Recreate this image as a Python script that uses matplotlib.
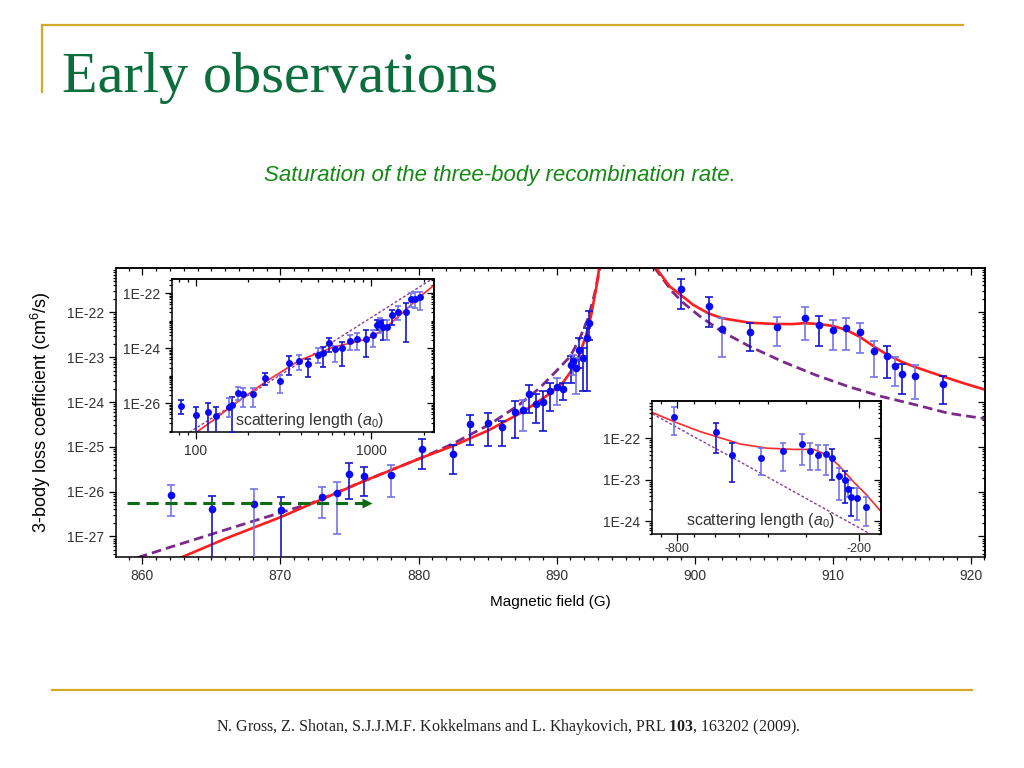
import numpy as np
import matplotlib.pyplot as plt
from matplotlib.lines import Line2D
from matplotlib.ticker import FixedLocator, LogLocator, MultipleLocator, NullFormatter, FuncFormatter

plt.rcParams['font.family'] = ['Liberation Sans', 'DejaVu Sans']
plt.rcParams['mathtext.fontset'] = 'custom'
plt.rcParams['mathtext.rm'] = 'Liberation Sans'
plt.rcParams['mathtext.it'] = 'Liberation Sans:italic'
plt.rcParams['mathtext.bf'] = 'Liberation Serif:bold'

# ---- main panel: K3 vs field, values are log10(K3) ----
main_field = [862.06, 865.05, 868.08, 870.04, 873.0, 874.07, 875.0, 876.05, 878.0, 880.25,
              882.5, 883.7, 885.0, 886.05, 887.0, 887.55, 888.0, 888.5, 889.0, 889.55,
              890.0, 890.5, 891.05, 891.2, 891.4, 891.65, 891.95, 892.2, 892.35, 899.0,
              901.03, 902.0, 904.0, 906.0, 908.0, 909.0, 910.0, 911.0, 911.96, 913.0,
              913.97, 914.5, 915.0, 916.0, 917.98]
main_logk = [-26.08, -26.39, -26.27, -26.42, -26.11, -26.04, -25.60, -25.65, -25.63, -25.05,
             -25.15, -24.50, -24.47, -24.56, -24.22, -24.17, -23.82, -24.04, -24.00, -23.76,
             -23.67, -23.70, -23.17, -23.09, -23.24, -22.83, -23.02, -22.57, -22.23, -21.48,
             -21.85, -22.38, -22.44, -22.32, -22.12, -22.29, -22.39, -22.35, -22.44, -22.87,
             -22.97, -23.19, -23.37, -23.41, -23.60]
main_hi = [-25.86, -26.10, -25.95, -26.11, -25.89, -25.78, -25.37, -25.44, -25.40, -24.83,
           -24.95, -24.28, -24.24, -24.43, -23.98, -23.95, -23.62, -23.83, -23.76, -23.57,
           -23.46, -23.57, -22.98, -22.95, -23.02, -22.57, -22.79, -22.35, -21.97, -21.26,
           -21.65, -22.13, -22.24, -22.11, -21.89, -22.08, -22.18, -22.13, -22.23, -22.63,
           -22.76, -23.00, -23.15, -23.17, -23.42]
main_lo = [-26.54, -28.0, -28.0, -28.0, -26.59, -26.95, -26.16, -26.10, -26.12, -25.50,
           -25.60, -24.95, -24.99, -24.99, -24.80, -24.65, -24.24, -24.47, -24.64, -24.21,
           -24.06, -23.95, -23.57, -23.40, -23.83, -23.24, -23.76, -23.75, -22.61, -21.92,
           -22.33, -23.00, -22.87, -22.76, -22.61, -22.74, -22.84, -22.84, -22.90, -23.45,
           -23.47, -23.64, -23.82, -23.93, -24.04]
main_run = [1, 0, 1, 0, 1, 1, 0, 0, 1, 0, 0, 0, 0, 0, 0, 1, 0, 0, 0, 0,
            1, 0, 0, 1, 1, 0, 0, 0, 0, 0, 0, 1, 0, 1, 1, 0, 1, 1, 1, 1,
            0, 1, 0, 1, 0]

# theory curves (solid = with saturation, dashed = a^4 scaling)
fit_left_field = [862.8, 866.0, 870.0, 873.0, 876.0, 878.65, 880.25, 882.5, 885.15, 887.6,
                  889.25, 890.46, 891.06, 891.67, 892.15, 892.52, 892.88, 893.1]
fit_left_logk = [-27.47, -27.05, -26.57, -26.17, -25.77, -25.44, -25.24, -24.98, -24.62, -24.21,
                 -23.87, -23.57, -23.31, -22.94, -22.50, -22.05, -21.45, -21.0]
fit_right_field = [897.2, 898.2, 899.0, 899.9, 901.0, 902.0, 904.0, 906.0, 907.1, 908.0,
                   909.0, 910.0, 911.0, 912.0, 913.0, 914.0, 915.0, 916.0, 918.0, 919.5, 921.0]
fit_right_logk = [-21.0, -21.42, -21.61, -21.83, -22.02, -22.13, -22.23, -22.26, -22.26, -22.24,
                  -22.26, -22.30, -22.39, -22.55, -22.76, -22.95, -23.10, -23.22, -23.43, -23.58, -23.72]
a4_left_field = [859.66, 862.0, 865.0, 868.0, 870.0, 872.3, 874.0, 876.0, 878.0, 880.25,
                 882.5, 885.15, 887.3, 888.77, 889.98, 891.0, 891.7, 892.3, 892.75, 893.0, 893.15]
a4_left_logk = [-27.47, -27.24, -26.95, -26.66, -26.47, -26.25, -26.03, -25.77, -25.52, -25.24,
                -24.93, -24.50, -24.06, -23.69, -23.31, -22.98, -22.57, -22.12, -21.60, -21.23, -21.0]
a4_right_field = [897.1, 898.4, 899.2, 900.4, 902.0, 904.0, 906.4, 908.8, 911.2, 913.6,
                  916.0, 918.4, 921.0]
a4_right_logk = [-21.0, -21.54, -21.79, -22.09, -22.43, -22.76, -23.10, -23.40, -23.66, -23.88,
                 -24.06, -24.25, -24.37]

arrow_field = [858.9, 876.3]
arrow_k3 = 5.5e-27

# ---- inset 1: positive scattering length ----
in1_a = [83, 100, 117, 130, 155, 162, 175, 186, 212, 250, 302, 339, 389, 439, 501, 533, 575,
         625, 685, 759, 832, 933, 1023, 1079, 1122, 1175, 1239, 1312, 1419, 1585, 1690, 1778, 1905]
in1_logk = [-26.10, -26.43, -26.31, -26.46, -26.12, -26.06, -25.61, -25.67, -25.67, -25.07, -25.18,
            -24.52, -24.45, -24.58, -24.24, -24.16, -23.80, -24.04, -24.00, -23.73, -23.67, -23.67,
            -23.52, -23.15, -23.09, -23.21, -23.21, -22.79, -22.70, -22.67, -22.22, -22.22, -22.12]
in1_hi = [-25.88, -26.12, -25.98, -26.15, -25.82, -25.76, -25.40, -25.45, -25.45, -24.91, -24.97,
          -24.28, -24.24, -24.40, -24.00, -23.94, -23.61, -23.92, -23.76, -23.52, -23.45, -23.33,
          -23.33, -22.97, -22.91, -22.97, -22.97, -22.61, -22.45, -22.36, -22.00, -21.97, -21.97]
in1_lo = [-26.39, -28.0, -28.0, -28.0, -26.49, -27.03, -25.88, -26.12, -26.12, -25.33, -25.61,
          -24.97, -24.79, -25.03, -24.55, -24.67, -24.12, -24.49, -24.64, -24.06, -24.06, -24.31,
          -23.94, -23.33, -23.45, -23.70, -23.70, -23.15, -22.97, -23.76, -22.49, -22.55, -22.61]
in1_run = [0, 0, 0, 0, 1, 0, 1, 1, 1, 0, 1, 0, 1, 0, 1, 0, 0, 1, 0, 1, 1, 0, 1, 0, 1, 0, 1, 0,
           1, 0, 1, 1, 1]
in1_fit_a = [101, 130, 163, 251, 393, 610, 944, 1175, 1466, 1905, 2301]
in1_fit_logk = [-27.05, -26.55, -26.06, -25.21, -24.43, -23.96, -23.67, -23.33, -22.79, -22.12, -21.70]
in1_a4_a = [92, 200, 500, 1000, 2170]
in1_a4_logk = [-27.05, -25.70, -24.10, -22.89, -21.53]

# ---- inset 2: negative scattering length ----
in2_a = [-817, -593, -525, -423, -356, -310, -291, -273, -257, -245, -234, -222, -218, -213,
         -204, -190]
in2_logk = [-21.48, -21.86, -22.40, -22.47, -22.32, -22.14, -22.32, -22.40, -22.39, -22.47,
            -22.91, -23.01, -23.23, -23.41, -23.45, -23.65]
in2_hi = [-21.25, -21.64, -22.12, -22.24, -22.11, -21.90, -22.11, -22.16, -22.16, -22.27,
          -22.73, -22.79, -23.01, -23.21, -23.21, -23.41]
in2_lo = [-21.92, -22.35, -23.05, -22.89, -22.78, -22.65, -22.77, -22.77, -22.89, -23.01,
          -23.49, -23.56, -23.41, -23.88, -23.98, -24.12]
in2_run = [1, 0, 0, 1, 1, 1, 1, 1, 1, 0, 1, 0, 1, 0, 1, 1]
in2_fit_a = [-962, -817, -670, -593, -494, -404, -330, -283, -256, -234, -209, -189, -169]
in2_fit_logk = [-21.38, -21.60, -21.84, -21.96, -22.14, -22.24, -22.27, -22.27, -22.40, -22.65,
                -23.05, -23.37, -23.78]
in2_a4_a = [-962, -700, -500, -300, -185]
in2_a4_logk = [-21.41, -21.97, -22.55, -23.45, -24.30]

GOLD = '#d4a82a'
TICK_GREY = '#333333'


def draw_points(a, x, logk, hi, lo, run, ms, cap, lw):
    x = np.asarray(x, dtype=float)
    k = 10.0 ** np.asarray(logk)
    up = 10.0 ** np.asarray(hi) - k
    dn = k - 10.0 ** np.asarray(lo)
    run = np.asarray(run)
    for r, col in [(0, '#1515d0'), (1, '#7474ec')]:
        m = run == r
        a.errorbar(x[m], k[m], yerr=[dn[m], up[m]], fmt='none', ecolor=col,
                   elinewidth=lw, capsize=cap, capthick=lw, zorder=3)
    a.plot(x, k, 'o', color='#0808f5', ms=ms, mec='none', zorder=4)


def style_box(a, major_len, minor_len):
    # bottom/left ticks point out, top/right ticks point in
    a.tick_params(which='both', direction='out', top=False, right=False,
                  colors='black', labelcolor=TICK_GREY, width=0.9)
    a.tick_params(which='major', length=major_len)
    a.tick_params(which='minor', length=minor_len)
    for s in a.spines.values():
        s.set_linewidth(1.1)
    top = a.secondary_xaxis('top')
    top.xaxis.set_major_locator(FixedLocator(a.xaxis.get_majorticklocs()))
    top.xaxis.set_minor_locator(FixedLocator(a.xaxis.get_minorticklocs()))
    top.tick_params(which='both', direction='in', labeltop=False, width=0.9)
    top.tick_params(which='major', length=major_len)
    top.tick_params(which='minor', length=minor_len)
    right = a.secondary_yaxis('right')
    right.yaxis.set_major_locator(FixedLocator(a.yaxis.get_majorticklocs()))
    right.yaxis.set_minor_locator(FixedLocator(a.yaxis.get_minorticklocs()))
    right.tick_params(which='both', direction='in', labelright=False, width=0.9)
    right.tick_params(which='major', length=major_len)
    right.tick_params(which='minor', length=minor_len)
    for sec in (top, right):
        for s in sec.spines.values():
            s.set_linewidth(1.1)


exp_fmt = FuncFormatter(lambda v, p: '1E%d' % int(round(np.log10(v))))

fig = plt.figure(figsize=(10.24, 7.68), dpi=100)

# slide decoration
fig.add_artist(Line2D([42 / 1024, 963 / 1024], [1 - 25 / 768] * 2, color=GOLD, lw=1.6))
fig.add_artist(Line2D([42 / 1024] * 2, [1 - 25 / 768, 1 - 92 / 768], color=GOLD, lw=1.6))
fig.add_artist(Line2D([52 / 1024, 972 / 1024], [1 - 690 / 768] * 2, color=GOLD, lw=1.6))
fig.text(62 / 1024, 1 - 92 / 768, 'Early observations', family=['Liberation Serif', 'DejaVu Serif'],
         fontsize=42, color='#0b6e3c', va='baseline')
fig.text(500 / 1024, 1 - 176 / 768, 'Saturation of the three-body recombination rate.',
         style='italic', fontsize=16, color='#128a12', ha='center', va='center')
fig.text(508 / 1024, 1 - 727 / 768,
         r'N. Gross, Z. Shotan, S.J.J.M.F. Kokkelmans and L. Khaykovich, PRL $\mathbf{103}$, 163202 (2009).',
         family=['Liberation Serif', 'DejaVu Serif'], fontsize=11.5, color='#222222',
         ha='center', va='center')

# main panel
ax = fig.add_axes([116 / 1024, 1 - 557 / 768, 869 / 1024, 289 / 768])
ax.set_yscale('log')
ax.set_xlim(858.08, 921.05)
ax.set_ylim(3.48e-28, 9.8e-22)
ax.xaxis.set_major_locator(MultipleLocator(10))
ax.xaxis.set_minor_locator(MultipleLocator(1))
ax.yaxis.set_major_locator(LogLocator(base=10, numticks=20))
ax.yaxis.set_minor_locator(LogLocator(base=10, subs=np.arange(2, 10), numticks=20))
ax.yaxis.set_major_formatter(exp_fmt)
ax.yaxis.set_minor_formatter(NullFormatter())
ax.tick_params(labelsize=10)

ax.plot(a4_left_field, 10.0 ** np.asarray(a4_left_logk), color='#7b2a8c', lw=2.0,
        dashes=(3.5, 1.8), zorder=2)
ax.plot(a4_right_field, 10.0 ** np.asarray(a4_right_logk), color='#7b2a8c', lw=2.0,
        dashes=(3.5, 1.8), zorder=2)
ax.plot(fit_left_field, 10.0 ** np.asarray(fit_left_logk), color='#ff1e1e', lw=1.9, zorder=2)
ax.plot(fit_right_field, 10.0 ** np.asarray(fit_right_logk), color='#ff1e1e', lw=1.9, zorder=2)
draw_points(ax, main_field, main_logk, main_hi, main_lo, main_run, ms=5.5, cap=3.2, lw=1.2)
ax.plot(arrow_field, [arrow_k3, arrow_k3], color='#0d6b12', lw=2.2, dashes=(4, 2.2), zorder=5)
ax.plot(arrow_field[-1], arrow_k3, '>', color='#0d6b12', ms=7, mec='none', zorder=5)

ax.set_xlabel('Magnetic field (G)', fontsize=11)
ax.xaxis.set_label_coords(0.5, -0.13)
ax.set_ylabel('3-body loss coefficient (cm$^6$/s)', fontsize=13)
ax.yaxis.set_label_coords(-0.072, 0.5)
style_box(ax, 5, 2.5)

# inset 1
in1 = fig.add_axes([171.7 / 1024, 1 - 432.3 / 768, 262.6 / 1024, 153 / 768])
in1.set_zorder(6)
in1.set_facecolor('white')
in1.set_xscale('log')
in1.set_yscale('log')
in1.set_xlim(73, 2296)
in1.set_ylim(8.9e-28, 3.2e-22)
in1.yaxis.set_major_locator(FixedLocator([1e-26, 1e-24, 1e-22]))
in1.yaxis.set_minor_locator(LogLocator(base=10, subs=np.arange(1, 10), numticks=20))
in1.yaxis.set_major_formatter(exp_fmt)
in1.yaxis.set_minor_formatter(NullFormatter())
in1.xaxis.set_major_formatter(FuncFormatter(lambda v, p: '%g' % v))
in1.xaxis.set_minor_formatter(NullFormatter())
in1.tick_params(labelsize=10)
in1.plot(in1_a4_a, 10.0 ** np.asarray(in1_a4_logk), color='#8a3a9a', lw=1.0, dashes=(2, 1.5), zorder=2)
in1.plot(in1_fit_a, 10.0 ** np.asarray(in1_fit_logk), color='#ff2a2a', lw=1.2, zorder=2)
draw_points(in1, in1_a, in1_logk, in1_hi, in1_lo, in1_run, ms=5, cap=2.5, lw=1.2)
in1.text(0.241, 0.08, r'scattering length ($a_{\mathit{0}}$)', transform=in1.transAxes,
         fontsize=11.5, color=TICK_GREY, va='center', zorder=6)
style_box(in1, 5, 2.5)

# inset 2 (|a| on log axis, decreasing to the right)
in2 = fig.add_axes([652.3 / 1024, 1 - 534.3 / 768, 228.7 / 1024, 133.3 / 768])
in2.set_zorder(6)
in2.set_facecolor('white')
in2.set_xscale('log')
in2.set_yscale('log')
in2.set_xlim(963, 169.5)
in2.set_ylim(4.8e-25, 7.9e-22)
in2.xaxis.set_major_locator(FixedLocator([800, 200]))
in2.xaxis.set_minor_locator(FixedLocator([900, 700, 600, 500, 400, 300]))
in2.xaxis.set_major_formatter(FuncFormatter(lambda v, p: '%d' % -v))
in2.xaxis.set_minor_formatter(NullFormatter())
in2.yaxis.set_major_locator(LogLocator(base=10, numticks=20))
in2.yaxis.set_minor_locator(LogLocator(base=10, subs=np.arange(2, 10), numticks=20))
in2.yaxis.set_major_formatter(exp_fmt)
in2.yaxis.set_minor_formatter(NullFormatter())
in2.tick_params(axis='y', labelsize=10)
in2.tick_params(axis='x', labelsize=9, pad=1.5)
in2.plot(np.abs(in2_a4_a), 10.0 ** np.asarray(in2_a4_logk), color='#8a3a9a', lw=1.0,
         dashes=(2, 1.5), zorder=2)
in2.plot(np.abs(in2_fit_a), 10.0 ** np.asarray(in2_fit_logk), color='#ff2a2a', lw=1.2, zorder=2)
draw_points(in2, np.abs(in2_a), in2_logk, in2_hi, in2_lo, in2_run, ms=5, cap=2.5, lw=1.2)
in2.text(0.147, 0.10, r'scattering length ($a_{\mathit{0}}$)', transform=in2.transAxes,
         fontsize=11.5, color=TICK_GREY, va='center', zorder=6)
style_box(in2, 5, 2.5)

fig.savefig('out.png', dpi=100)
